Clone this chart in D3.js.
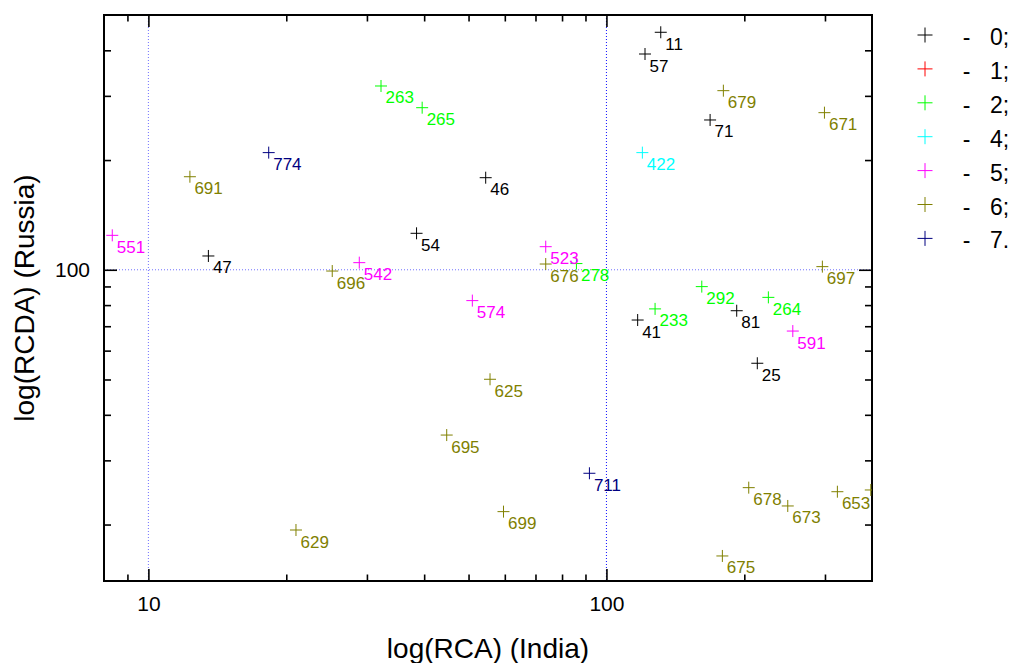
<!DOCTYPE html>
<html>
<head>
<meta charset="utf-8">
<script src="https://cdn.jsdelivr.net/npm/d3@7"></script>
<style>
  body { margin: 0; background: #fff; }
  svg text { font-family: "Liberation Sans", Arial, sans-serif; }
</style>
</head>
<body>
<svg id="chart"></svg>
<script>
// point data
var labels = ["11","57","263","265","679","71","671","774","422","691","46","551","54","47","523","542","696","676","278","697","292","264","574","233","41","81","591","25","625","695","711","678","673","653","","699","629","675"];
var groups = [0,0,2,2,6,0,6,7,4,6,0,5,0,0,5,5,6,6,2,6,2,2,5,2,0,0,5,0,6,6,7,6,6,6,6,6,6,6];
var rca  = [131.4,121.4,32.2,39.6,180.0,168.4,299.2,18.31,119.8,12.32,54.5,8.34,38.5,13.52,73.7,28.87,25.2,73.7,86.0,296.1,161.5,225.7,50.96,127.7,117.0,192.5,255.2,213.5,55.7,44.8,91.8,204.5,248.8,319.3,377.7,59.6,21.0,179.1];
var rcda = [448.3,390.8,319.3,278.4,310.0,257.6,269.8,209.6,209.6,180.0,178.9,124.3,125.9,109.1,115.7,104.6,99.2,103.7,104.0,102.0,89.9,84.0,82.3,78.1,72.8,77.2,67.9,55.4,50.07,35.2,27.65,25.25,22.49,24.61,24.88,21.7,19.32,16.4];

var legendGroups = ["0","1","2","4","5","6","7"];
var groupColors = {0:"#000000",1:"#ff0000",2:"#00ff00",4:"#00ffff",5:"#ff00ff",6:"#808000",7:"#000080"};

var xMajor = [10, 100], xMinor = [9,20,30,40,50,60,70,80,90,200,300];
var yMajor = [100], yMinor = [20,30,40,50,60,70,80,90,200,300,400];

var W = 1018, H = 663;
var pL = 104, pR = 872, pT = 15, pB = 581;

var svg = d3.select("#chart").attr("width", W).attr("height", H);

var x = d3.scaleLog().domain([8, 380]).range([pL, pR]);
var y = d3.scaleLog().domain([14, 500]).range([pB, pT]);

// dotted reference lines
svg.append("line").attr("x1", x(10)).attr("x2", x(10)).attr("y1", pT).attr("y2", pB)
   .attr("stroke", "#7070ff").attr("stroke-dasharray", "1,2");
svg.append("line").attr("x1", x(100)).attr("x2", x(100)).attr("y1", pT).attr("y2", pB)
   .attr("stroke", "#1010ff").attr("stroke-dasharray", "1,2");
svg.append("line").attr("x1", pL).attr("x2", pR).attr("y1", y(100)).attr("y2", y(100))
   .attr("stroke", "#7070ff").attr("stroke-dasharray", "1,2");

//axes, ticks point inward on all four sides
function ax(gen, tx, ty, vals, size, showText, pad) {
  var g = svg.append("g").attr("transform", "translate(" + tx + "," + ty + ")")
    .call(gen.tickValues(vals).tickSize(size).tickPadding(pad)
             .tickFormat(showText ? d3.format("d") : function() { return ""; }));
  g.attr("font-size", 21).attr("font-family", null);
  g.select(".domain").remove();
  g.selectAll("line").attr("stroke", "#000").attr("stroke-width", 1.6);
  g.selectAll("text").attr("fill", "#000");
  return g;
}
ax(d3.axisBottom(x), 0, pB, xMajor, -12, true, 15.5);
ax(d3.axisBottom(x), 0, pB, xMinor, -6.5, false, 0);
ax(d3.axisTop(x), 0, pT, xMajor, -12, false, 0);
ax(d3.axisTop(x), 0, pT, xMinor, -6.5, false, 0);
ax(d3.axisLeft(y), pL, 0, yMajor, -13, true, 14);
ax(d3.axisLeft(y), pL, 0, yMinor, -7, false, 0);
ax(d3.axisRight(y), pR, 0, yMajor, -13, false, 0);
ax(d3.axisRight(y), pR, 0, yMinor, -7, false, 0);

svg.append("rect").attr("x", pL).attr("y", pT)
   .attr("width", pR - pL).attr("height", pB - pT)
   .attr("fill", "none").attr("stroke", "#000").attr("stroke-width", 2);

svg.append("clipPath").attr("id", "plotclip").append("rect")
   .attr("x", pL).attr("y", pT).attr("width", pR - pL).attr("height", pB - pT);

var plot = svg.append("g").attr("clip-path", "url(#plotclip)");

var idx = d3.range(labels.length);
var cr = 6;
var pts = plot.selectAll("g.pt").data(idx).enter().append("g").attr("class", "pt")
  .attr("transform", function(i) { return "translate(" + x(rca[i]) + "," + y(rcda[i]) + ")"; })
  .attr("stroke", function(i) { return groupColors[groups[i]]; });
pts.append("line").attr("x1", -cr).attr("x2", cr).attr("y1", 0).attr("y2", 0);
pts.append("line").attr("x1", 0).attr("x2", 0).attr("y1", -cr).attr("y2", cr);

plot.selectAll("text.lbl").data(idx).enter().append("text").attr("class", "lbl")
  .attr("x", function(i) { return x(rca[i]) + 4.5; })
  .attr("y", function(i) { return y(rcda[i]) + 17.5; })
  .attr("font-size", 17)
  .attr("fill", function(i) { return groupColors[groups[i]]; })
  .text(function(i) { return labels[i]; });

// axis titles
svg.append("text").attr("x", (pL + pR) / 2).attr("y", 658)
   .attr("text-anchor", "middle").attr("font-size", 28).text("log(RCA) (India)");
svg.append("text").attr("transform", "translate(34," + ((pT + pB) / 2) + ") rotate(-90)")
   .attr("text-anchor", "middle").attr("font-size", 28).text("log(RCDA) (Russia)");

// legend
var lg = svg.selectAll("g.leg").data(legendGroups).enter().append("g").attr("class", "leg")
  .attr("transform", function(d, i) { return "translate(925," + (35 + i * 33.9) + ")"; });
lg.append("line").attr("x1", -7.5).attr("x2", 7.5).attr("y1", 0).attr("y2", 0)
  .attr("stroke", function(d) { return groupColors[d]; });
lg.append("line").attr("x1", 0).attr("x2", 0).attr("y1", -7.5).attr("y2", 7.5)
  .attr("stroke", function(d) { return groupColors[d]; });
lg.append("text").attr("x", 41.7).attr("y", 10).attr("text-anchor", "middle")
  .attr("font-size", 23).text("-");
lg.append("text").attr("x", 65).attr("y", 10).attr("font-size", 23)
  .text(function(d, i) { return d + (i === legendGroups.length - 1 ? "." : ";"); });
</script>
</body>
</html>
